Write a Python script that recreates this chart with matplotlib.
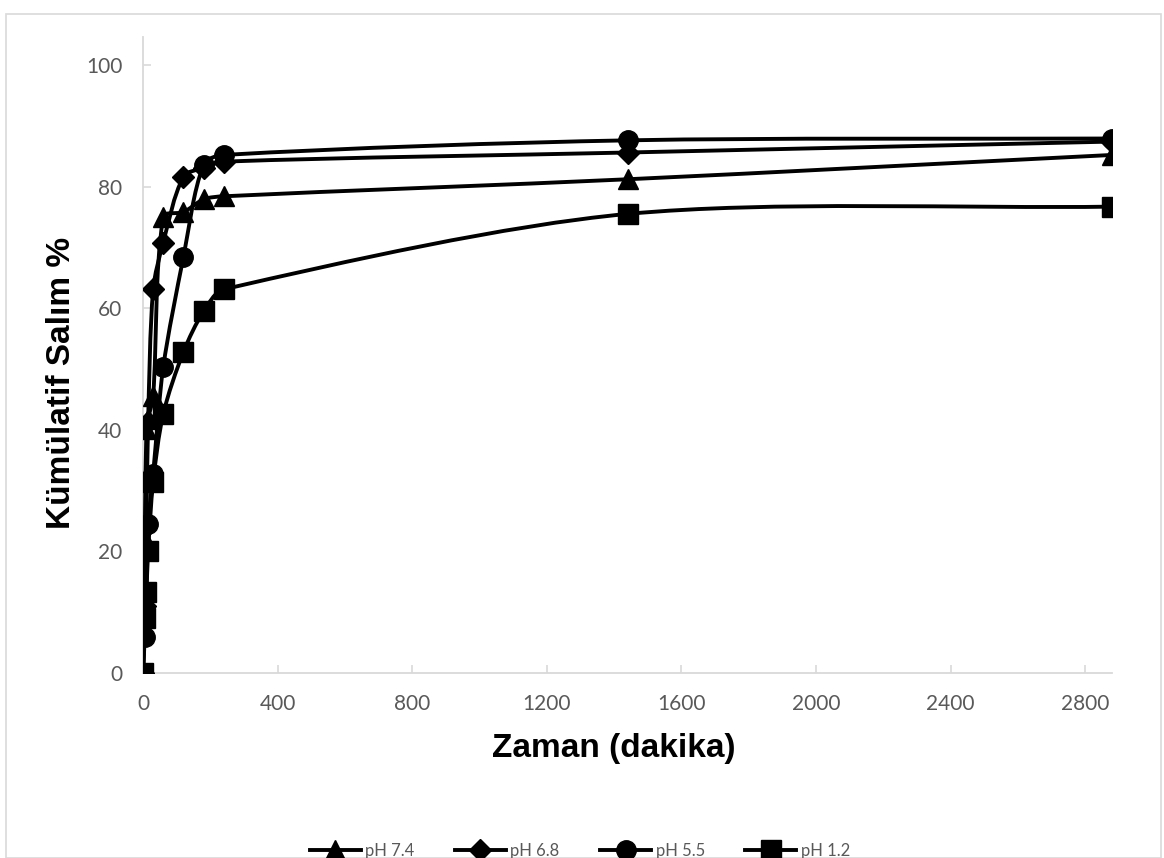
import numpy as np
import matplotlib.pyplot as plt
from matplotlib.path import Path
from matplotlib.patches import PathPatch, Rectangle
from matplotlib.lines import Line2D

# time points (minutes) and cumulative release (%)
zaman = [0, 5, 10, 15, 30, 60, 120, 180, 240, 1440, 2880]
ph74 = [0, 22.0, 40.2, 41.8, 45.6, 75.0, 75.8, 77.9, 78.4, 81.2, 85.2]
ph68 = [0, 11.0, 24.0, 41.3, 63.1, 70.8, 81.6, 83.1, 84.1, 85.6, 87.4]
ph55 = [0, 6.0, 13.0, 24.5, 32.8, 50.3, 68.4, 83.6, 85.2, 87.6, 87.9]
ph12 = [0, 9.0, 13.3, 20.0, 31.4, 42.6, 52.8, 59.5, 63.1, 75.5, 76.7]

labels = ["pH 7.4", "pH 6.8", "pH 5.5", "pH 1.2"]
markers = ["^", "D", "o", "s"]
msizes = [15, 11, 14, 14]

GRAY = "#595959"
AXC = "#d9d9d9"


def smooth_path(ax, x, y, f=0.3):
    # excel-like smoothing, done in pixel space so no hooks on uneven spacing
    p = ax.transData.transform(np.column_stack([x, y]).astype(float))
    n = len(p)
    tang = []
    for i in range(n):
        d = p[min(i + 1, n - 1)] - p[max(i - 1, 0)]
        nd = np.hypot(*d)
        tang.append(d / nd if nd > 0 else np.zeros(2))
    verts = [p[0]]
    codes = [Path.MOVETO]
    for i in range(n - 1):
        L = np.hypot(*(p[i + 1] - p[i]))
        verts += [p[i] + tang[i] * L * f, p[i + 1] - tang[i + 1] * L * f, p[i + 1]]
        codes += [Path.CURVE4] * 3
    verts = ax.transData.inverted().transform(np.array(verts))
    return Path(verts, codes)


fig = plt.figure(figsize=(11.64, 8.58), dpi=100)
fig.patches.append(Rectangle((0.005, 0.0), 0.992, 0.984, transform=fig.transFigure,
                             fill=False, edgecolor=AXC, linewidth=1.2))
ax = fig.add_axes([0.1229, 0.2156, 0.8325, 0.7413])
ax.set_xlim(0, 2880)
ax.set_ylim(0, 104.6)

for k, ys in enumerate([ph74, ph68, ph55, ph12]):
    z = 3 + k * 2
    ax.add_patch(PathPatch(smooth_path(ax, zaman, ys), fill=False, edgecolor="black",
                           linewidth=2.8, zorder=z, capstyle="round", joinstyle="round"))
    ax.plot(zaman, ys, linestyle="none", marker=markers[k], markersize=msizes[k],
            color="black", zorder=z + 1)

ax.set_xticks(range(0, 2801, 400))
ax.set_yticks(range(0, 101, 20))
for s in ["top", "right"]:
    ax.spines[s].set_visible(False)
for s in ["left", "bottom"]:
    ax.spines[s].set_color(AXC)
    ax.spines[s].set_linewidth(1.3)
ax.tick_params(direction="in", length=6, width=1.2, color=AXC, labelcolor=GRAY,
               labelsize=15, pad=15)
for t in ax.get_xticklabels() + ax.get_yticklabels():
    t.set_fontfamily("Lato")

fig.text(614 / 1164, 1 - 748 / 858, "Zaman (dakika)", ha="center", va="center",
         fontsize=24, fontweight="bold", family="Liberation Sans")
fig.text(62 / 1164, 1 - 383 / 858, "Kümülatif Salım %", ha="center", va="center",
         rotation=90, fontsize=24, fontweight="bold", family="Liberation Sans")

handles = [Line2D([], [], color="black", linewidth=2.8, marker=m, markersize=ms)
           for m, ms in zip(markers, msizes)]
leg = fig.legend(handles, labels, loc="center", bbox_to_anchor=(0.498, 1 - 851 / 858),
                 ncol=4, frameon=False, handlelength=3.1, handletextpad=0.25,
                 columnspacing=2.4, prop={"family": "Lato", "size": 12})
for t in leg.get_texts():
    t.set_color(GRAY)

fig.savefig("out.png", dpi=100)
